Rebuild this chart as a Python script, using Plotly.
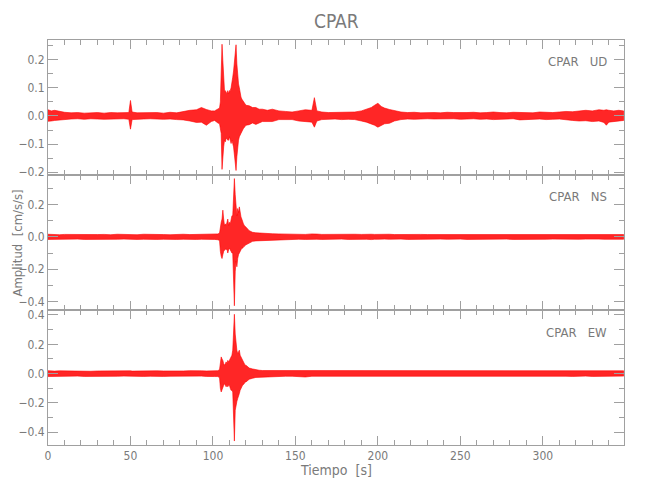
import plotly.graph_objects as go
from plotly.subplots import make_subplots

# ---------------- data (envelope of each trace) ----------------
T_PRE = [0, 2, 4, 7, 10, 14, 18, 22, 26, 30, 34, 38, 42, 46, 49, 50, 51, 54, 58, 62,
         66, 70, 74, 78, 82, 86, 90, 93, 96, 99, 101, 103, 104]
T_BURST = [104.5, 105, 105.5, 106, 106.5, 107, 107.5, 108, 108.5, 109, 109.5, 110,
           110.5, 111, 111.5, 112, 112.5, 113, 113.5, 114, 114.5, 115, 115.5, 116,
           116.5, 117, 117.5, 118, 118.5, 119, 119.5, 120]
T_POST = [122, 124, 126, 128, 130, 133, 136, 140, 144, 148, 152, 156, 160, 161.5, 163,
          166, 170, 174, 178, 182, 186, 190, 193, 196, 198, 200, 202, 204, 207, 210,
          214, 218, 222, 226, 230, 234, 238, 242, 246, 250, 254, 258, 262, 266, 270,
          274, 278, 282, 286, 290, 294, 298, 302, 306, 310, 314, 318, 322, 326, 330,
          334, 337, 338.5, 340, 343, 346, 349]
TIME = T_PRE + T_BURST + T_POST

UD_HI = [.022, .018, .020, .016, .013, .011, .012, .010, .011, .012,
         .010, .012, .011, .013, .012, .055, .014, .011, .012, .011,
         .012, .010, .013, .011, .016, .020, .022, .030, .023, .018,
         .018, .024, .028,
         .05, .126, .255, .196, .114, .09, .09, .085, .079, .09,
         .079, .09, .09, .10, .114, .138, .16, .185, .22, .253,
         .185, .138, .114, .10, .079, .067, .06, .055, .055, .05,
         .044, .038,
         .036, .030, .030, .024, .024, .020, .024, .018, .016, .014,
         .018, .022, .020, .065, .018, .014, .012, .013, .012, .014,
         .014, .018, .024, .030, .038, .045, .034, .028, .023, .018,
         .014, .012, .013, .011, .012, .012, .011, .013, .012, .011,
         .012, .013, .011, .012, .014, .012, .011, .013, .012, .013,
         .011, .014, .013, .012, .014, .016, .015, .018, .020, .018,
         .022, .020, .022, .020, .018, .020, .018]
UD_LO = [-.019, -.018, -.016, -.015, -.012, -.011, -.010, -.012, -.010, -.011,
         -.012, -.010, -.011, -.010, -.012, -.047, -.013, -.012, -.011, -.010,
         -.010, -.012, -.011, -.013, -.014, -.018, -.023, -.022, -.033, -.020,
         -.016, -.025, -.028,
         -.04, -.062, -.19, -.145, -.11, -.086, -.092, -.08, -.08, -.086,
         -.086, -.074, -.086, -.098, -.086, -.098, -.11, -.12, -.156, -.194,
         -.145, -.11, -.086, -.074, -.068, -.062, -.056, -.05, -.045, -.045,
         -.039, -.033,
         -.031, -.025, -.030, -.025, -.020, -.020, -.020, -.013, -.014, -.013,
         -.018, -.020, -.022, -.040, -.018, -.013, -.012, -.011, -.013, -.012,
         -.013, -.018, -.022, -.028, -.033, -.040, -.034, -.028, -.026, -.018,
         -.013, -.011, -.012, -.012, -.010, -.011, -.012, -.011, -.010, -.012,
         -.011, -.010, -.012, -.011, -.013, -.012, -.011, -.010, -.014, -.012,
         -.012, -.011, -.013, -.012, -.011, -.014, -.016, -.018, -.017, -.020,
         -.018, -.023, -.033, -.022, -.020, -.018, -.016]

NS_HI = [.016, .014, .015, .013, .015, .014, .016, .013, .015, .014,
         .015, .013, .016, .014, .015, .014, .015, .013, .016, .014,
         .015, .014, .013, .015, .016, .014, .015, .016, .014, .015,
         .016, .018, .023,
         .07, .09, .11, .165, .11, .07, .08, .07, .09, .11,
         .07, .09, .08, .11, .13, .13, .28, .36, .26, .15,
         .13, .175, .15, .185, .13, .123, .11, .09, .08, .07,
         .062, .06,
         .038, .028, .025, .023, .021, .020, .019, .018, .017, .016,
         .016, .015, .018, .016, .017, .015, .016, .014, .015, .018,
         .016, .015, .017, .016, .015, .016, .014, .015, .016, .014,
         .015, .014, .016, .015, .014, .014, .015, .016, .014, .015,
         .015, .014, .015, .016, .014, .014, .016, .015, .014, .015,
         .015, .014, .016, .015, .014, .014, .015, .014, .016, .015,
         .015, .014, .016, .015, .014, .015, .014]
NS_LO = [-.016, -.015, -.014, -.016, -.014, -.015, -.014, -.016, -.015, -.017,
         -.014, -.016, -.015, -.014, -.016, -.015, -.014, -.016, -.015, -.014,
         -.016, -.015, -.014, -.016, -.015, -.014, -.016, -.015, -.016, -.015,
         -.016, -.018, -.023,
         -.09, -.12, -.134, -.11, -.09, -.08, -.075, -.08, -.075, -.10,
         -.08, -.07, -.08, -.09, -.10, -.10, -.15, -.426, -.216, -.15,
         -.185, -.134, -.11, -.10, -.09, -.08, -.07, -.07, -.062, -.06,
         -.052, -.05,
         -.038, -.028, -.025, -.023, -.021, -.020, -.019, -.018, -.017, -.016,
         -.015, -.016, -.017, -.016, -.015, -.016, -.015, -.016, -.014, -.016,
         -.015, -.016, -.015, -.017, -.015, -.015, -.016, -.014, -.015, -.016,
         -.014, -.016, -.015, -.014, -.015, -.015, -.014, -.015, -.016, -.014,
         -.016, -.015, -.014, -.015, -.016, -.015, -.014, -.016, -.015, -.014,
         -.014, -.016, -.015, -.014, -.015, -.016, -.014, -.015, -.014, -.016,
         -.014, -.015, -.016, -.014, -.015, -.016, -.015]

EW_HI = [.020, .018, .017, .019, .018, .017, .019, .018, .016, .018,
         .019, .017, .018, .020, .018, .019, .017, .018, .020, .017,
         .019, .018, .017, .019, .018, .020, .017, .019, .018, .020,
         .019, .020, .028,
         .09, .114, .10, .09, .068, .057, .068, .08, .068, .09,
         .08, .09, .10, .114, .125, .16, .25, .405, .27, .18,
         .16, .136, .148, .16, .125, .114, .10, .09, .08, .068,
         .057, .057,
         .038, .032, .026, .023, .021, .021, .020, .019, .018, .019,
         .018, .020, .019, .018, .019, .018, .019, .017, .018, .020,
         .019, .018, .017, .019, .018, .018, .019, .017, .020, .018,
         .017, .019, .018, .020, .017, .019, .018, .017, .019, .018,
         .018, .017, .019, .018, .020, .017, .019, .018, .017, .019,
         .018, .020, .017, .019, .018, .019, .018, .017, .019, .018,
         .018, .019, .017, .018, .019, .018, .019]
EW_LO = [-.020, -.019, -.018, -.017, -.019, -.018, -.017, -.019, -.018, -.020,
         -.017, -.019, -.018, -.017, -.019, -.018, -.020, -.017, -.019, -.018,
         -.017, -.019, -.018, -.020, -.017, -.019, -.018, -.017, -.019, -.018,
         -.020, -.020, -.028,
         -.10, -.125, -.11, -.09, -.08, -.068, -.08, -.09, -.08, -.09,
         -.08, -.08, -.10, -.114, -.114, -.125, -.296, -.46, -.25, -.227,
         -.19, -.17, -.148, -.136, -.114, -.10, -.09, -.08, -.08, -.068,
         -.057, -.057,
         -.038, -.032, -.026, -.023, -.021, -.020, -.021, -.019, -.018, -.018,
         -.019, -.023, -.018, -.019, -.018, -.019, -.018, -.020, -.017, -.018,
         -.018, -.019, -.018, -.020, -.017, -.019, -.018, -.017, -.019, -.018,
         -.018, -.019, -.017, -.018, -.020, -.017, -.019, -.018, -.020, -.018,
         -.019, -.018, -.017, -.019, -.018, -.018, -.020, -.018, -.017, -.019,
         -.019, -.017, -.018, -.020, -.018, -.018, -.019, -.020, -.017, -.019,
         -.019, -.018, -.019, -.017, -.018, -.018, -.017]

STATION = "CPAR"
COMPONENTS = ["UD", "NS", "EW"]
Y_RANGES = [[-0.21, 0.27], [-0.452, 0.382], [-0.487, 0.434]]
Y_DTICK = [0.1, 0.2, 0.2]
X_RANGE = [0, 349.2]

# ---------------- figure ----------------
GRAY_TXT = "#7a7a7a"
GRAY_LINE = "#a0a0a0"
FONT = "Liberation Sans Narrow, DejaVu Sans Condensed, Liberation Sans, sans-serif"

fig = make_subplots(rows=3, cols=1, shared_xaxes=True, vertical_spacing=0)

series = [(UD_HI, UD_LO), (NS_HI, NS_LO), (EW_HI, EW_LO)]
for i, (hi, lo) in enumerate(series):
    assert len(hi) == len(TIME) and len(lo) == len(TIME), (i, len(hi), len(lo), len(TIME))
    fig.add_trace(go.Scatter(
        x=TIME + TIME[::-1], y=hi + lo[::-1],
        mode="lines", fill="toself", fillcolor="rgba(255,0,0,0.85)",
        line=dict(color="#ff0000", width=0.6),
        hoverinfo="skip", showlegend=False), row=i + 1, col=1)

for i in range(3):
    fig.update_xaxes(
        row=i + 1, col=1, range=X_RANGE, showline=True, linecolor=GRAY_LINE,
        linewidth=1, mirror="allticks", ticks="inside", ticklen=9,
        tickcolor=GRAY_LINE, tick0=0, dtick=50, showgrid=False, zeroline=False,
        minor=dict(ticks="inside", ticklen=5, dtick=10, tickcolor=GRAY_LINE,
                   showgrid=False),
        tickfont=dict(family=FONT, size=12, color=GRAY_TXT))
    fig.update_yaxes(
        row=i + 1, col=1, range=Y_RANGES[i], showline=True, linecolor=GRAY_LINE,
        linewidth=1, mirror="allticks", ticks="inside", ticklen=10,
        tickcolor=GRAY_LINE, tick0=0, dtick=Y_DTICK[i], tickformat=".1f",
        showgrid=False, zeroline=False, automargin=False,
        minor=dict(ticks="inside", ticklen=5, dtick=Y_DTICK[i] / 2,
                   tickcolor=GRAY_LINE, showgrid=False),
        tickfont=dict(family=FONT, size=12, color=GRAY_TXT))

label_y = [0.948, 0.6136, 0.279]
annotations = []
for comp, ly in zip(COMPONENTS, label_y):
    annotations.append(dict(
        text=STATION + "\u00a0\u00a0\u00a0" + comp, xref="paper", yref="paper",
        x=0.974, y=ly, xanchor="right", yanchor="middle", showarrow=False,
        font=dict(family=FONT, size=13, color=GRAY_TXT)))
annotations.append(dict(
    text=STATION, xref="paper", yref="paper", x=0.5, y=1.0765,
    xanchor="center", yanchor="top", showarrow=False, borderpad=0,
    font=dict(family=FONT, size=19, color=GRAY_TXT)))
annotations.append(dict(
    text="Tiempo\u00a0\u00a0[s]", xref="paper", yref="paper", x=0.5, y=-0.062,
    xanchor="center", yanchor="middle", showarrow=False,
    font=dict(family=FONT, size=14, color=GRAY_TXT)))
annotations.append(dict(
    text="Amplitud\u00a0\u00a0[cm/s/s]", xref="paper", yref="paper", x=-0.0675,
    y=0.499, xanchor="left", yanchor="middle", textangle=-90, borderpad=0,
    showarrow=False, font=dict(family=FONT, size=13, color=GRAY_TXT)))

# the page puts the figure 8 px from the top-left corner, so the figure is 8 px smaller
fig.update_layout(
    width=642, height=492,
    margin=dict(l=40, r=26, t=32, b=55, autoexpand=False),
    paper_bgcolor="white", plot_bgcolor="white",
    font=dict(family=FONT, color=GRAY_TXT),
    annotations=annotations, showlegend=False)

fig.write_html("out.html")
